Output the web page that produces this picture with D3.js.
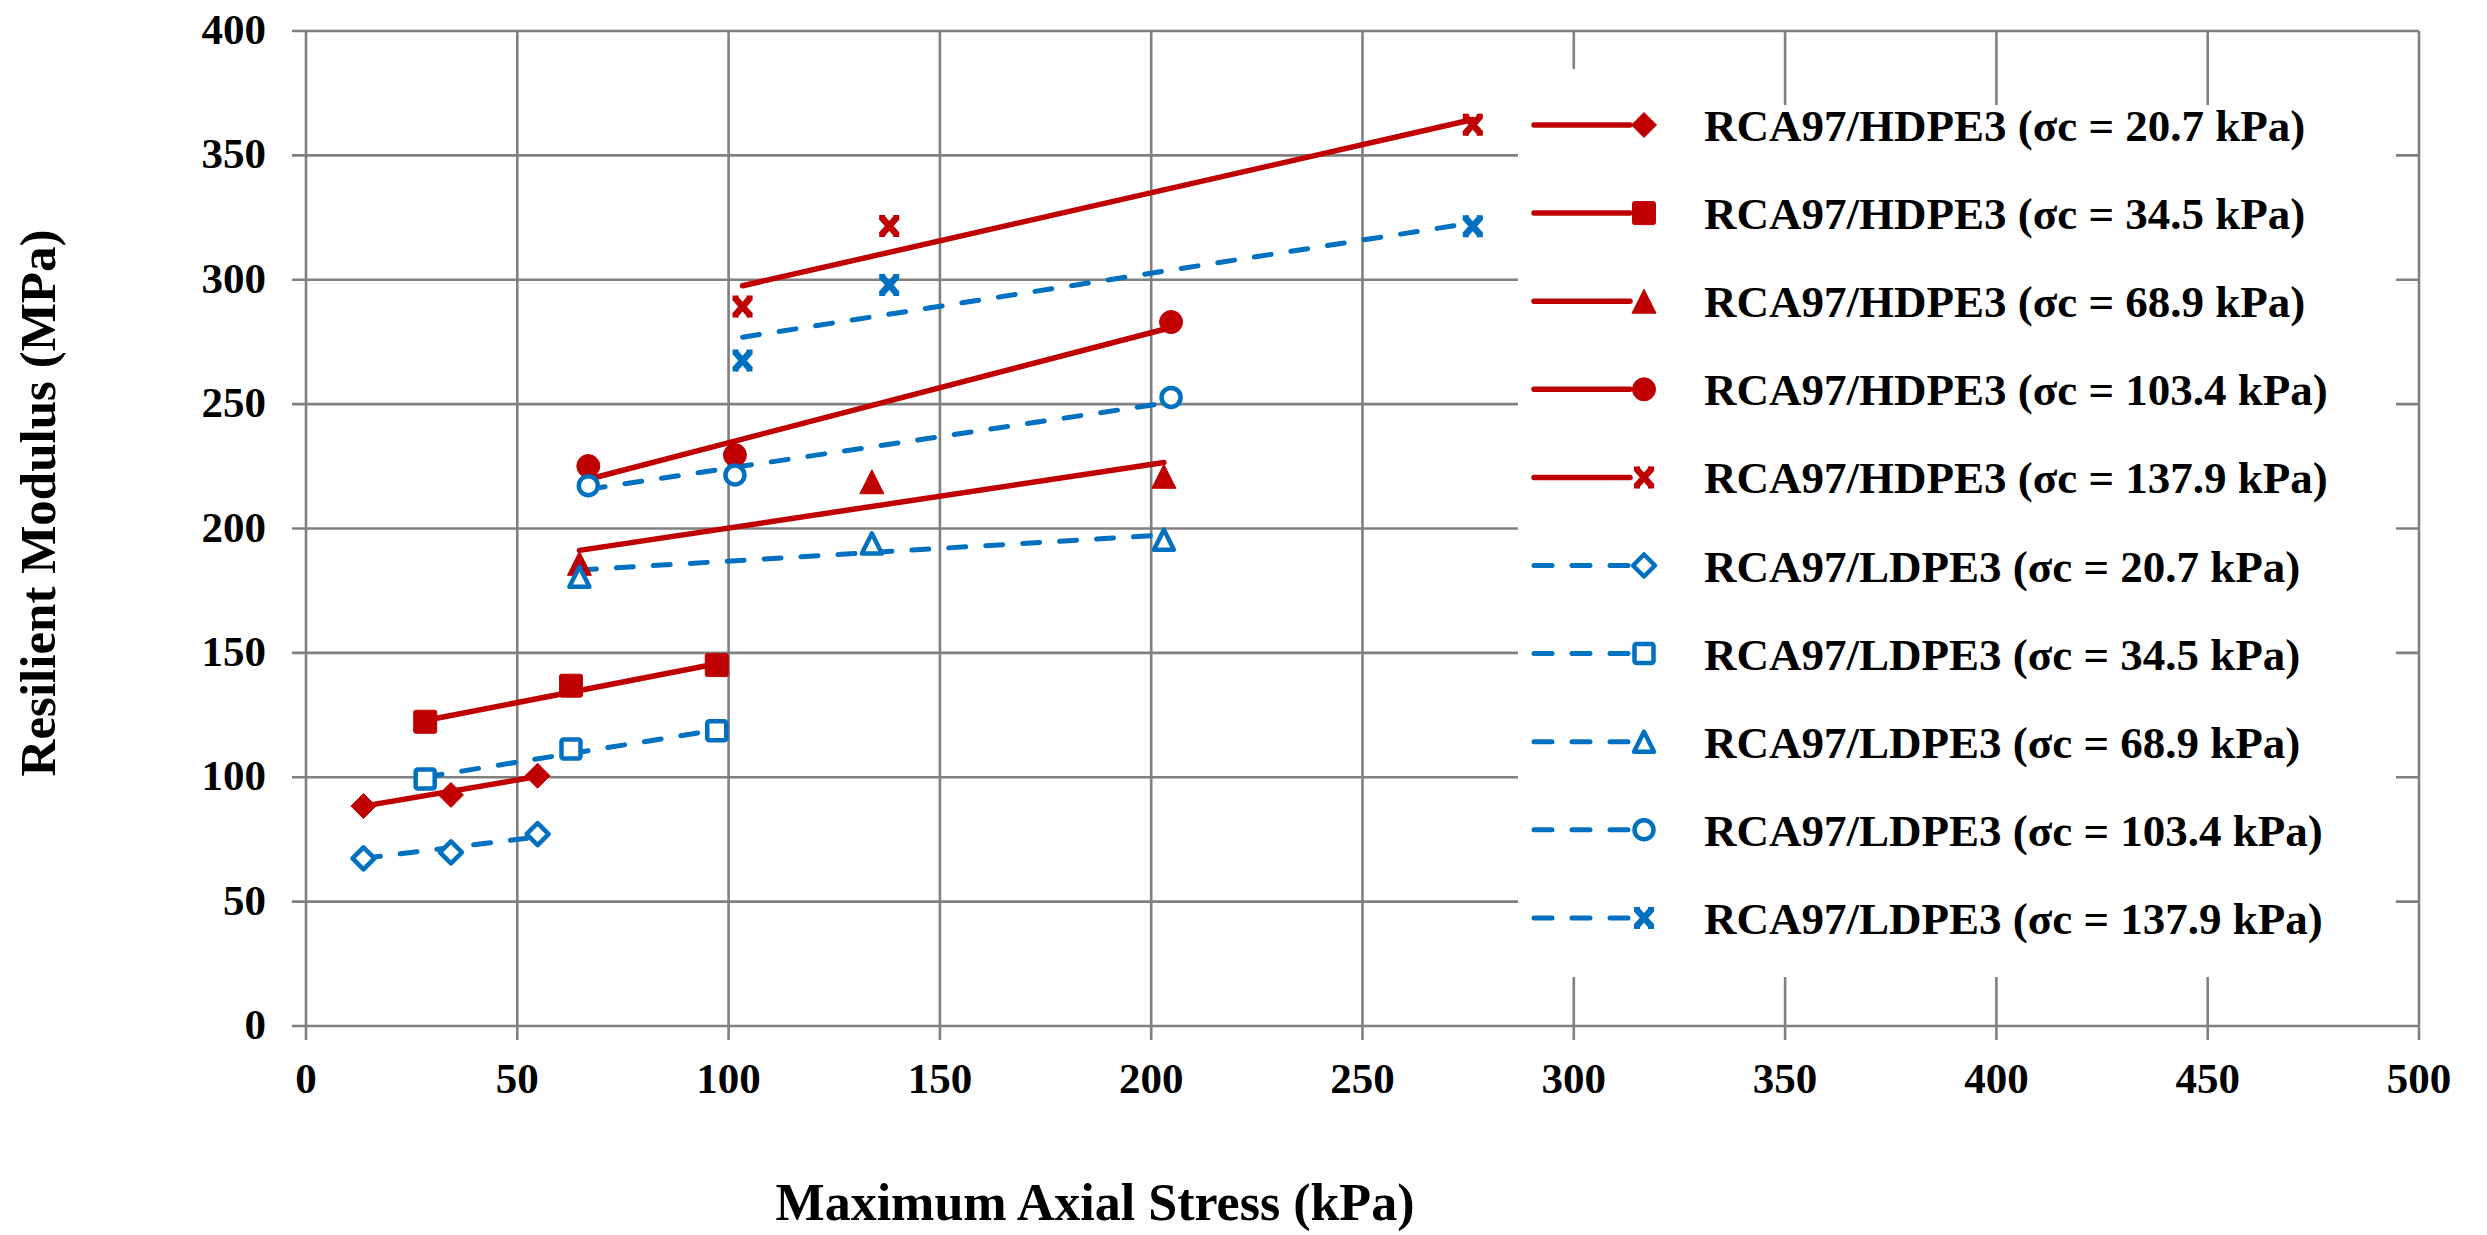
<!DOCTYPE html>
<html>
<head>
<meta charset="utf-8">
<script src="https://cdn.jsdelivr.net/npm/d3@7"></script>
<style>
  html, body { margin: 0; padding: 0; background: #ffffff; }
  svg { display: block; }
  text { font-family: "Liberation Serif", "Times New Roman", serif; font-weight: bold; fill: #000; }
</style>
</head>
<body>
<svg id="chart" width="2487" height="1235"></svg>
<script>
// ---------------- data ----------------
const xTicks = [0, 50, 100, 150, 200, 250, 300, 350, 400, 450, 500];
const yTicks = [0, 50, 100, 150, 200, 250, 300, 350, 400];
const confining = ["20.7", "34.5", "68.9", "103.4", "137.9"];
const markerShapes = ["diamond", "square", "triangle", "circle", "x"];
// maximum axial stress (kPa) for each confining pressure
const axialStress = [
  [13.6, 34.3, 54.8],
  [28.2, 62.7, 97.2],
  [64.7, 133.9, 203.0],
  [66.8, 101.5, 204.7],
  [103.3, 138.0, 276.1]
];
// resilient modulus (MPa)
const hdpeMr = [
  [88.4, 92.9, 100.6],
  [122.3, 136.8, 145.1],
  [186.0, 218.8, 221.0],
  [225.1, 229.5, 283.0],
  [289.2, 321.6, 362.3]
];
const ldpeMr = [
  [67.4, 69.8, 77.1],
  [99.3, 111.4, 118.7],
  [180.6, 194.0, 195.5],
  [217.2, 221.5, 252.7],
  [267.5, 297.9, 321.5]
];
// trend line values at first and last stress
const hdpeTrendMr = [
  [88.4, 100.3],
  [122.8, 145.6],
  [191.2, 226.5],
  [219.8, 280.8],
  [297.6, 364.4]
];
const ldpeTrendMr = [
  [67.4, 76.0],
  [100.1, 119.0],
  [183.3, 197.4],
  [215.8, 250.8],
  [276.9, 322.9]
];
const xTitle = "Maximum Axial Stress (kPa)";
const yTitle = "Resilient Modulus (MPa)";

// ---------------- layout ----------------
const RED = "#C00000", BLUE = "#0070C0", GRID = "#808080";
const svg = d3.select("#chart");
const x = d3.scaleLinear().domain([0, 500]).range([306, 2419]);
const y = d3.scaleLinear().domain([0, 400]).range([1026, 31]);

// gridlines (with outward ticks)
const grid = svg.append("g");
grid.selectAll("line.h").data(yTicks).enter().append("line")
  .attr("x1", x(0) - 14).attr("x2", x(500))
  .attr("y1", d => y(d)).attr("y2", d => y(d))
  .attr("stroke", GRID).attr("stroke-width", 2.6);
grid.selectAll("line.v").data(xTicks).enter().append("line")
  .attr("x1", d => x(d)).attr("x2", d => x(d))
  .attr("y1", y(400)).attr("y2", y(0) + 14)
  .attr("stroke", GRID).attr("stroke-width", 2.6);

// tick labels
svg.append("g").selectAll("text").data(yTicks).enter().append("text")
  .attr("x", 266).attr("y", d => y(d) + 13)
  .attr("text-anchor", "end").attr("font-size", 43).text(d => d);
svg.append("g").selectAll("text").data(xTicks).enter().append("text")
  .attr("x", d => x(d)).attr("y", 1093)
  .attr("text-anchor", "middle").attr("font-size", 43).text(d => d);

// axis titles
svg.append("text").attr("x", 1095).attr("y", 1220)
  .attr("text-anchor", "middle").attr("font-size", 52).text(xTitle);
svg.append("text").attr("transform", "translate(55,503) rotate(-90)")
  .attr("text-anchor", "middle").attr("font-size", 51).text(yTitle);

// ---------------- marker drawing ----------------
function drawMarker(g, shape, cx, cy, color, filled) {
  const fill = filled ? color : "#ffffff";
  const sw = filled ? 1 : 4.5;
  if (shape === "diamond") {
    const r = filled ? 12.5 : 11;
    g.append("path").attr("d", `M${cx},${cy - r}L${cx + r},${cy}L${cx},${cy + r}L${cx - r},${cy}Z`)
      .attr("fill", fill).attr("stroke", color).attr("stroke-width", sw).attr("stroke-linejoin", "round");
  } else if (shape === "square") {
    const s = filled ? 11.5 : 9.5;
    g.append("rect").attr("x", cx - s).attr("y", cy - s).attr("width", 2 * s).attr("height", 2 * s)
      .attr("rx", 2).attr("fill", fill).attr("stroke", color).attr("stroke-width", sw);
  } else if (shape === "triangle") {
    const h = filled ? 12 : 10;
    g.append("path").attr("d", `M${cx},${cy - h}L${cx + h},${cy + h}L${cx - h},${cy + h}Z`)
      .attr("fill", fill).attr("stroke", color).attr("stroke-width", sw).attr("stroke-linejoin", "round");
  } else if (shape === "circle") {
    const r = filled ? 11.5 : 9.5;
    g.append("circle").attr("cx", cx).attr("cy", cy).attr("r", r)
      .attr("fill", fill).attr("stroke", color).attr("stroke-width", sw);
  } else if (shape === "x") {
    g.append("path").attr("d", `M${cx - 8},${cy - 9}L${cx + 8},${cy + 9}M${cx + 8},${cy - 9}L${cx - 8},${cy + 9}`)
      .attr("fill", "none").attr("stroke", color).attr("stroke-width", 6.5);
    g.append("path").attr("d", `M${cx - 10},${cy - 9}H${cx - 4}M${cx + 4},${cy - 9}H${cx + 10}M${cx - 10},${cy + 9}H${cx - 4}M${cx + 4},${cy + 9}H${cx + 10}`)
      .attr("fill", "none").attr("stroke", color).attr("stroke-width", 4);
  }
}

// ---------------- series ----------------
const line = d3.line().x(d => x(d[0])).y(d => y(d[1]));
const plot = svg.append("g");

function trendPts(i, trend) {
  const xs = axialStress[i];
  return [[xs[0], trend[i][0]], [xs[xs.length - 1], trend[i][1]]];
}

// LDPE (dashed blue) trend lines
confining.forEach((c, i) => {
  plot.append("path").attr("d", line(trendPts(i, ldpeTrendMr)))
    .attr("fill", "none").attr("stroke", BLUE).attr("stroke-width", 5)
    .attr("stroke-dasharray", "17,20").attr("stroke-linecap", "round");
});
// HDPE (solid red) trend lines
confining.forEach((c, i) => {
  plot.append("path").attr("d", line(trendPts(i, hdpeTrendMr)))
    .attr("fill", "none").attr("stroke", RED).attr("stroke-width", 5.5)
    .attr("stroke-linecap", "round");
});
// markers
confining.forEach((c, i) => {
  axialStress[i].forEach((sx, j) => {
    drawMarker(plot, markerShapes[i], x(sx), y(hdpeMr[i][j]), RED, true);
  });
});
confining.forEach((c, i) => {
  axialStress[i].forEach((sx, j) => {
    drawMarker(plot, markerShapes[i], x(sx), y(ldpeMr[i][j]), BLUE, false);
  });
});

// ---------------- legend ----------------
const leg = svg.append("g");
leg.append("rect").attr("x", 1518).attr("y", 105).attr("width", 878).attr("height", 872).attr("fill", "#fff");
leg.append("rect").attr("x", 1518).attr("y", 69).attr("width", 180).attr("height", 40).attr("fill", "#fff");

const legendItems = [];
confining.forEach((c, i) => legendItems.push({ label: `RCA97/HDPE3 (σc = ${c} kPa)`, shape: markerShapes[i], color: RED, filled: true }));
confining.forEach((c, i) => legendItems.push({ label: `RCA97/LDPE3 (σc = ${c} kPa)`, shape: markerShapes[i], color: BLUE, filled: false }));

legendItems.forEach((it, k) => {
  const cy = 125 + k * 88.1;
  if (it.filled) {
    leg.append("line").attr("x1", 1534).attr("x2", 1630).attr("y1", cy).attr("y2", cy)
      .attr("stroke", it.color).attr("stroke-width", 5.5).attr("stroke-linecap", "round");
  } else {
    leg.append("line").attr("x1", 1534).attr("x2", 1632).attr("y1", cy).attr("y2", cy)
      .attr("stroke", it.color).attr("stroke-width", 5).attr("stroke-linecap", "round")
      .attr("stroke-dasharray", "18,20");
  }
  drawMarker(leg, it.shape, 1644, cy, it.color, it.filled);
  leg.append("text").attr("x", 1704).attr("y", cy + 16).attr("font-size", 45).text(it.label);
});
</script>
</body>
</html>
